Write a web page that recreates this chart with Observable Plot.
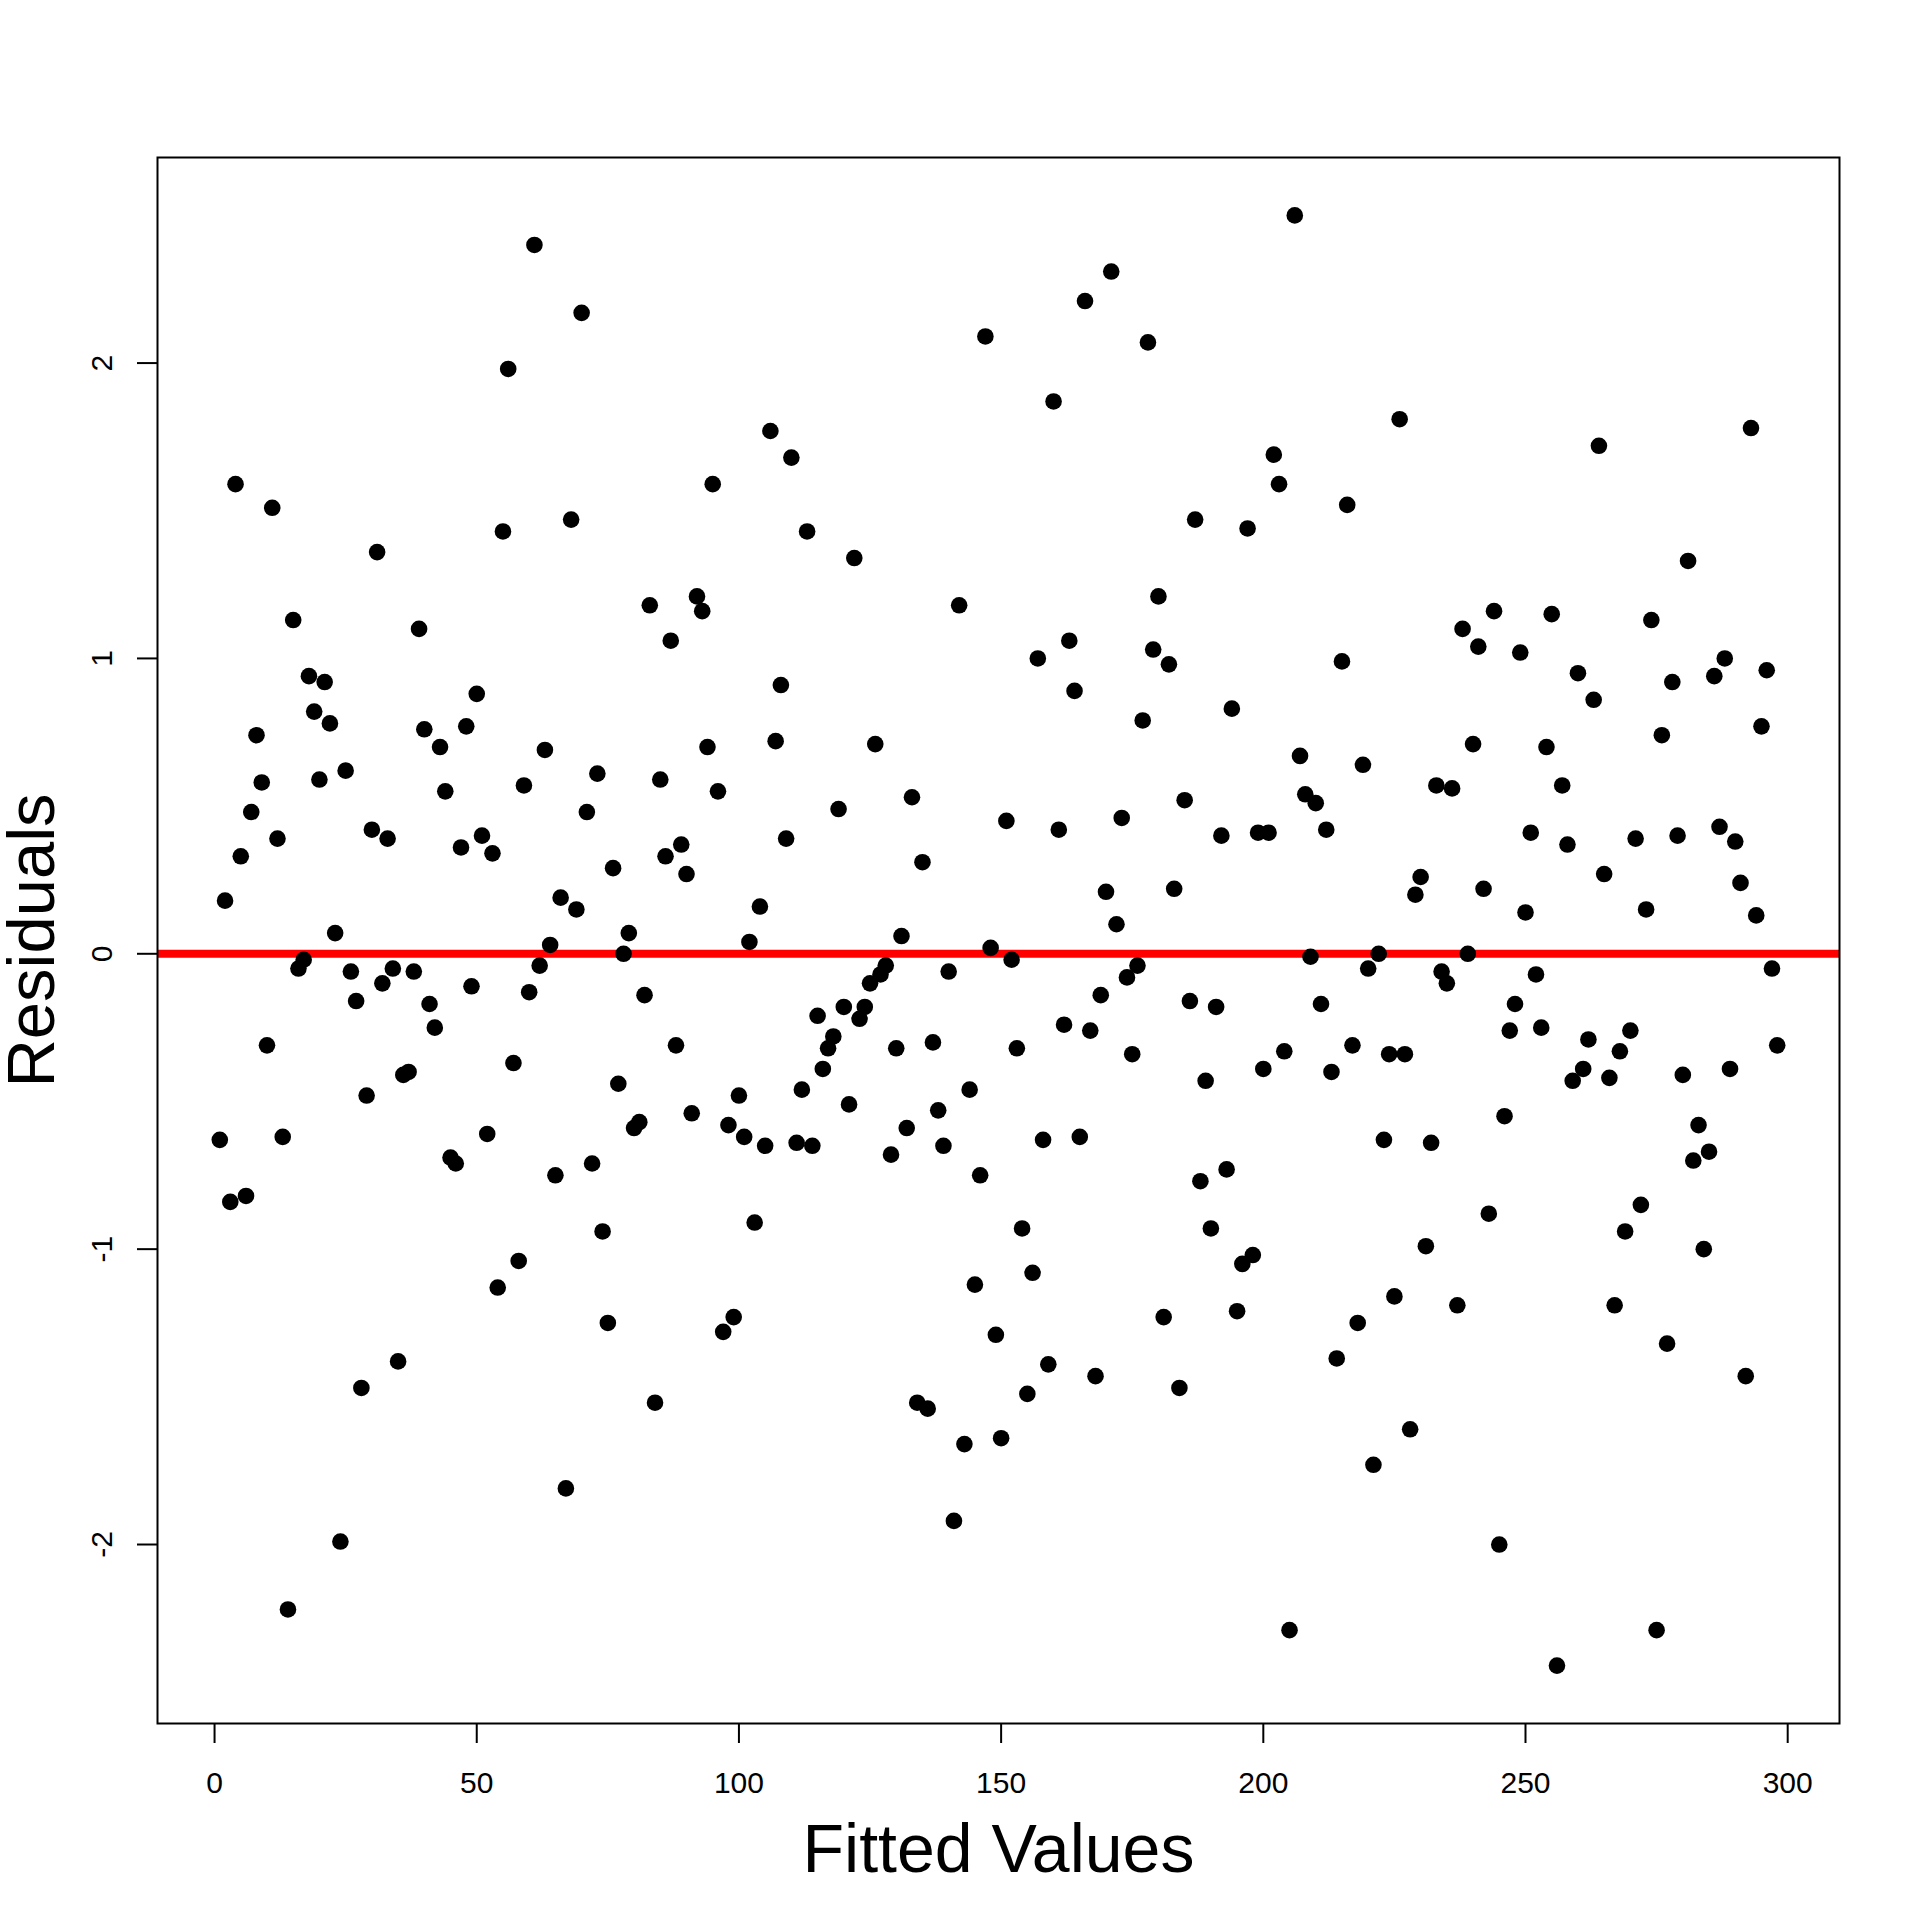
<!DOCTYPE html>
<html>
<head>
<meta charset="utf-8">
<script src="https://cdn.jsdelivr.net/npm/d3@7"></script>
<script src="https://cdn.jsdelivr.net/npm/@observablehq/plot@0.6"></script>
<style>
  html, body { margin: 0; padding: 0; background: white; }
  #chart { width: 1920px; height: 1920px; }
</style>
</head>
<body>
<div id="chart"></div>
<script>
const fittedValues = [
  1,2,3,4,5,6,7,8,9,10,11,12,13,14,15,16,17,18,19,20,
  21,22,23,24,25,26,27,28,29,30,31,32,33,34,35,36,37,38,39,40,
  41,42,43,44,45,46,47,48,49,50,51,52,53,54,55,56,57,58,59,60,
  61,62,63,64,65,66,67,68,69,70,71,72,73,74,75,76,77,78,79,80,
  81,82,83,84,85,86,87,88,89,90,91,92,93,94,95,96,97,98,99,100,
  101,102,103,104,105,106,107,108,109,110,111,112,113,114,115,116,117,118,119,120,
  121,122,123,124,125,126,127,128,129,130,131,132,133,134,135,136,137,138,139,140,
  141,142,143,144,145,146,147,148,149,150,151,152,153,154,155,156,157,158,159,160,
  161,162,163,164,165,166,167,168,169,170,171,172,173,174,175,176,177,178,179,180,
  181,182,183,184,185,186,187,188,189,190,191,192,193,194,195,196,197,198,199,200,
  201,202,203,204,205,206,207,208,209,210,211,212,213,214,215,216,217,218,219,220,
  221,222,223,224,225,226,227,228,229,230,231,232,233,234,235,236,237,238,239,240,
  241,242,243,244,245,246,247,248,249,250,251,252,253,254,255,256,257,258,259,260,
  261,262,263,264,265,266,267,268,269,270,271,272,273,274,275,276,277,278,279,280,
  281,282,283,284,285,286,287,288,289,290,291,292,293,294,295,296,297,298
];
const residuals = [
  -0.63,0.18,-0.84,1.59,0.33,-0.82,0.48,0.74,0.58,-0.31,
  1.51,0.39,-0.62,-2.22,1.13,-0.05,-0.02,0.94,0.82,0.59,
  0.92,0.78,0.07,-1.99,0.62,-0.06,-0.16,-1.47,-0.48,0.42,
  1.36,-0.10,0.39,-0.05,-1.38,-0.41,-0.40,-0.06,1.10,0.76,
  -0.17,-0.25,0.70,0.55,-0.69,-0.71,0.36,0.77,-0.11,0.88,
  0.40,-0.61,0.34,-1.13,1.43,1.98,-0.37,-1.04,0.57,-0.13,
  2.40,-0.04,0.69,0.03,-0.75,0.19,-1.81,1.47,0.15,2.17,
  0.48,-0.71,0.61,-0.94,-1.25,0.29,-0.44,0.00,0.07,-0.59,
  -0.57,-0.14,1.18,-1.52,0.59,0.33,1.06,-0.31,0.37,0.27,
  -0.54,1.21,1.16,0.70,1.59,0.55,-1.28,-0.58,-1.23,-0.48,
  -0.62,0.04,-0.91,0.16,-0.65,1.77,0.72,0.91,0.39,1.68,
  -0.64,-0.46,1.43,-0.65,-0.21,-0.39,-0.32,-0.28,0.49,-0.18,
  -0.51,1.34,-0.22,-0.18,-0.10,0.71,-0.07,-0.04,-0.68,-0.32,
  0.06,-0.59,0.53,-1.52,0.31,-1.54,-0.30,-0.53,-0.65,-0.06,
  -1.92,1.18,-1.66,-0.46,-1.12,-0.75,2.09,0.02,-1.29,-1.64,
  0.45,-0.02,-0.32,-0.93,-1.49,-1.08,1.00,-0.63,-1.39,1.87,
  0.42,-0.24,1.06,0.89,-0.62,2.21,-0.26,-1.43,-0.14,0.21,
  2.31,0.10,0.46,-0.08,-0.34,-0.04,0.79,2.07,1.03,1.21,
  -1.23,0.98,0.22,-1.47,0.52,-0.16,1.47,-0.77,-0.43,-0.93,
  -0.18,0.40,-0.73,0.83,-1.21,-1.05,1.44,-1.02,0.41,-0.39,
  0.41,1.69,1.59,-0.33,-2.29,2.50,0.67,0.54,-0.01,0.51,
  -0.17,0.42,-0.40,-1.37,0.99,1.52,-0.31,-1.25,0.64,-0.05,
  -1.73,0.00,-0.63,-0.34,-1.16,1.81,-0.34,-1.61,0.20,0.26,
  -0.99,-0.64,0.57,-0.06,-0.10,0.56,-1.19,1.10,0.00,0.71,
  1.04,0.22,-0.88,1.16,-2.00,-0.55,-0.26,-0.17,1.02,0.14,
  0.41,-0.07,-0.25,0.70,1.15,-2.41,0.57,0.37,-0.43,0.95,
  -0.39,-0.29,0.86,1.72,0.27,-0.42,-1.19,-0.33,-0.94,-0.26,
  0.39,-0.85,0.15,1.13,-2.29,0.74,-1.32,0.92,0.40,-0.41,
  1.33,-0.70,-0.58,-1.00,-0.67,0.94,0.43,1.00,-0.39,0.38,
  0.24,-1.43,1.78,0.13,0.77,0.96,-0.05,-0.31
];
const xTicks = [0, 50, 100, 150, 200, 250, 300];
const yTicks = [-2, -1, 0, 1, 2];
const referenceLine = [0];
const xLabel = "Fitted Values";
const yLabel = "Residuals";

const points = fittedValues.map((x, i) => ({x, y: residuals[i]}));

const chart = Plot.plot({
  width: 1920,
  height: 1920,
  marginLeft: 157,
  marginRight: 81,
  marginTop: 157,
  marginBottom: 197,
  style: {fontFamily: "'Liberation Sans', Arial, Helvetica, sans-serif", background: "white", color: "black"},
  x: {domain: [-10.88, 309.88]},
  y: {domain: [-2.606, 2.696]},
  marks: [
    Plot.ruleY(referenceLine, {stroke: "#ff0000", strokeWidth: 8}),
    Plot.dot(points, {x: "x", y: "y", r: 8.3, fill: "black", stroke: "none"}),
    Plot.frame({stroke: "black", strokeWidth: 2}),
    Plot.axisX({ticks: xTicks, tickSize: 20, tickPadding: 28, fontSize: 30, label: null, stroke: "black", strokeWidth: 2, tickFormat: d => String(d)}),
    Plot.axisY({ticks: yTicks, tickSize: 20, tickFormat: () => "", label: null, stroke: "black", strokeWidth: 2}),
    Plot.text(yTicks, {y: d => d, text: d => String(d), frameAnchor: "left", dx: -55, rotate: -90, fontSize: 30, textAnchor: "middle", lineAnchor: "middle", fill: "black"}),
    Plot.text([xLabel], {text: d => d, frameAnchor: "bottom", dy: 127, fontSize: 68, textAnchor: "middle", lineAnchor: "middle", fill: "black"}),
    Plot.text([yLabel], {text: d => d, frameAnchor: "left", dx: -125, rotate: -90, fontSize: 67, textAnchor: "middle", lineAnchor: "middle", fill: "black"})
  ]
});
document.getElementById("chart").appendChild(chart);
</script>
</body>
</html>
